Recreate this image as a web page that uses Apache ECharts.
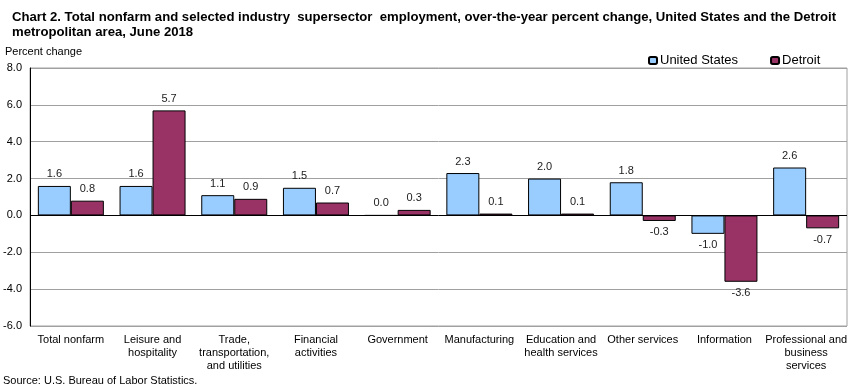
<!DOCTYPE html>
<html><head><meta charset="utf-8">
<script src="https://cdn.jsdelivr.net/npm/echarts@6/dist/echarts.min.js"></script>
<style>html,body{margin:0;padding:0;background:#fff}#c{width:861px;height:390px}</style>
</head><body><div id="c"></div>
<script>
const categories = ["Total nonfarm","Leisure and\nhospitality","Trade,\ntransportation,\nand utilities","Financial\nactivities","Government","Manufacturing","Education and\nhealth services","Other services","Information","Professional and\nbusiness\nservices"];
const usValues = [1.6,1.6,1.1,1.5,0.0,2.3,2.0,1.8,-1.0,2.6];
const detroitValues = [0.8,5.7,0.9,0.7,0.3,0.1,0.1,-0.3,-3.6,-0.7];
const yTicks = [-6,8,2];

const FONT = '"Liberation Sans", Arial, sans-serif';
function items(arr){
  return arr.map(v => ({value: v, label: {position: v < 0 ? 'bottom' : 'top'}}));
}
const chart = echarts.init(document.getElementById('c'), null, {renderer:'canvas'});
chart.setOption({
  animation: false,
  textStyle: {fontFamily: FONT},
  title: {
    text: 'Chart 2. Total nonfarm and selected industry  supersector  employment, over-the-year percent change, United States and the Detroit\nmetropolitan area, June 2018',
    left: 7, top: 5,
    textStyle: {fontFamily: FONT, fontSize: 13.15, fontWeight: 'bold', color: '#000', lineHeight: 15}
  },
  legend: {
    left: 643, top: 49,
    itemWidth: 8, itemHeight: 7, itemGap: 32,
    textStyle: {fontFamily: FONT, fontSize: 13, color: '#000', padding: [0,0,0,-2]},
    data: ['United States','Detroit']
  },
  graphic: [
    {type:'text', left: 5, top: 46, style:{text:'Percent change', font:'11px ' + FONT, fill:'#000'}},
    {type:'text', left: 3, top: 375, style:{text:'Source: U.S. Bureau of Labor Statistics.', font:'11px ' + FONT, fill:'#000'}}
  ],
  grid: {left: 30, right: 14, top: 68, bottom: 64, show: true, borderColor: '#a0a0a0', borderWidth: 1},
  xAxis: {
    type: 'category', data: categories,
    axisLine: {show: false, onZero: false},
    axisTick: {show: false},
    axisLabel: {interval: 0, fontFamily: FONT, fontSize: 11, color: '#000', lineHeight: 13, margin: 7}
  },
  yAxis: {
    type: 'value', min: yTicks[0], max: yTicks[1], interval: yTicks[2],
    axisLine: {show: true, lineStyle: {color: '#000'}},
    axisTick: {show: false},
    splitLine: {lineStyle: {color: '#a0a0a0'}},
    axisLabel: {formatter: v => v.toFixed(1), fontFamily: FONT, fontSize: 11, color: '#000', margin: 8}
  },
  series: [
    {name: 'United States', type: 'bar', data: items(usValues), barWidth: 33, barGap: '0%',
     itemStyle: {color: '#99CCFF', borderColor: '#000', borderWidth: 1},
     label: {show: true, formatter: p => p.value.toFixed(1), fontFamily: FONT, fontSize: 11, color: '#222', distance: 6},
     markLine: {silent: true, symbol: 'none', label: {show: false}, lineStyle: {color: '#000', type: 'solid', width: 1}, data: [{yAxis: 0}]}
    },
    {name: 'Detroit', type: 'bar', data: items(detroitValues), barWidth: 33,
     itemStyle: {color: '#993366', borderColor: '#000', borderWidth: 1},
     label: {show: true, formatter: p => p.value.toFixed(1), fontFamily: FONT, fontSize: 11, color: '#222', distance: 6}
    }
  ]
});
</script></body></html>
